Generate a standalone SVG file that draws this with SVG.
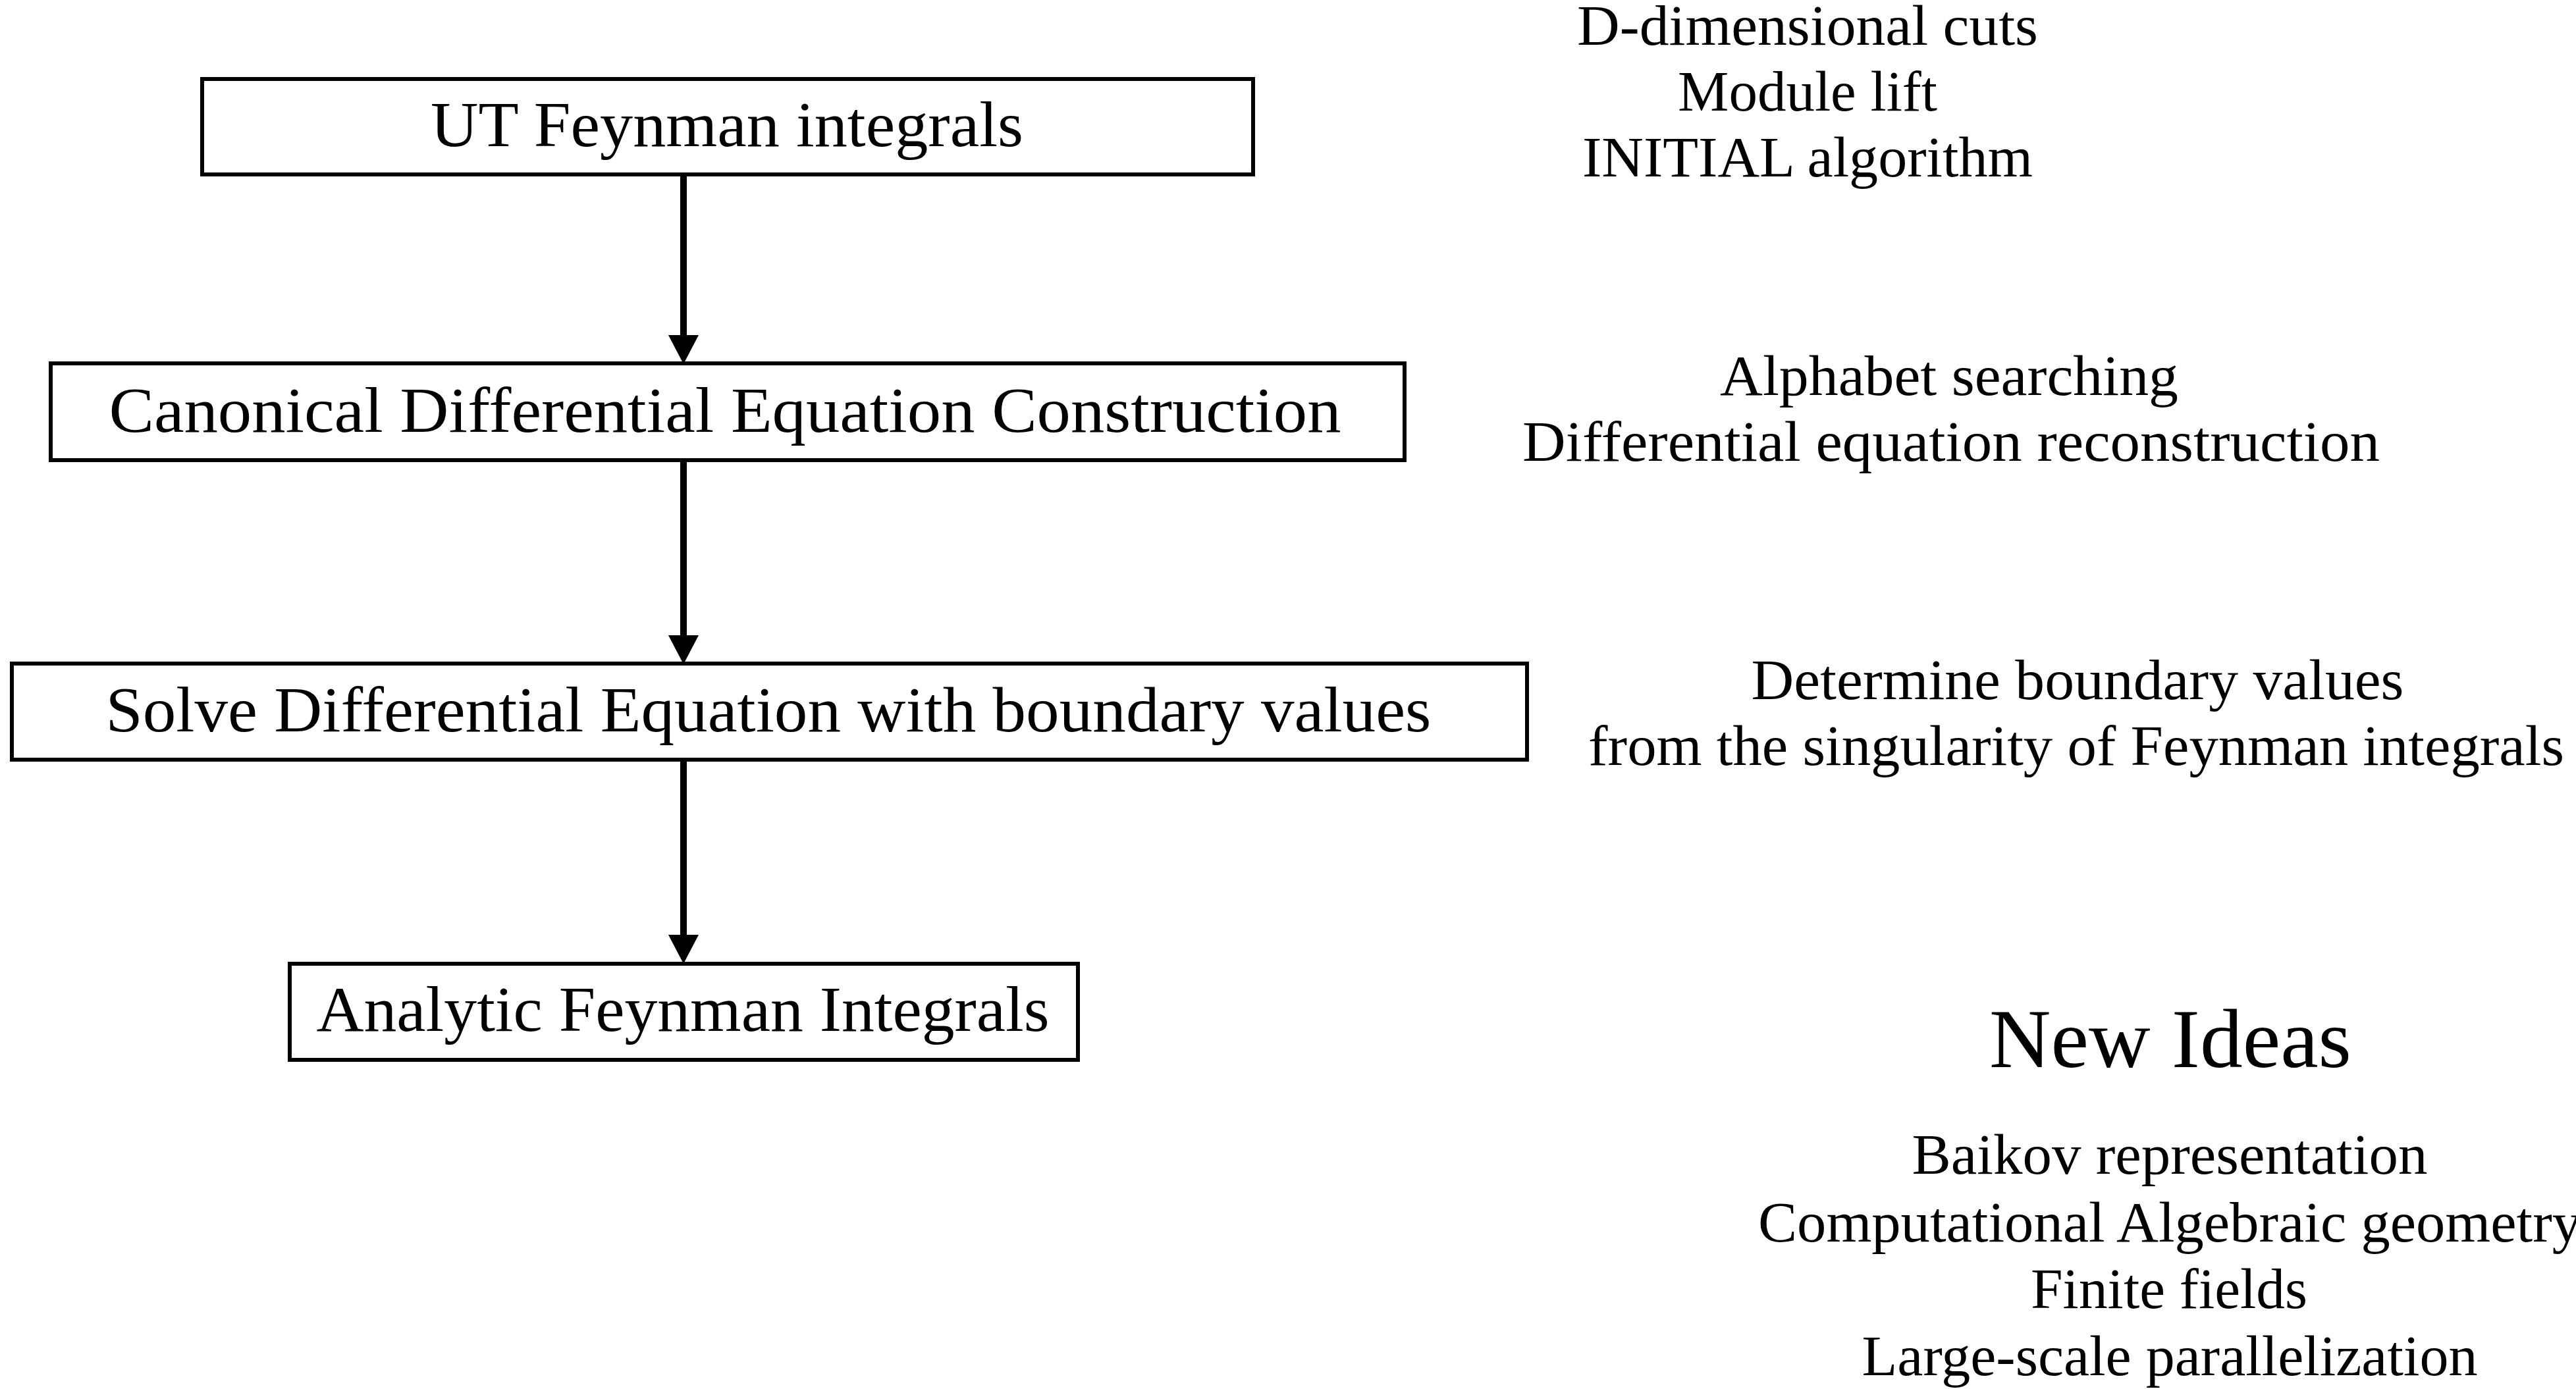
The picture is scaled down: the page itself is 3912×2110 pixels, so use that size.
<svg xmlns="http://www.w3.org/2000/svg" width="3912" height="2110" viewBox="0 0 3912 2110">
  <style>
    .box { fill: #ffffff; stroke: #000000; stroke-width: 6; }
    .t { font-family: "Liberation Serif", "DejaVu Serif", serif; fill: #000000; text-anchor: middle; }
    .node-label { font-size: 98px; }
    .note { font-size: 86px; }
    .heading { font-size: 128px; }
    .link { stroke: #000000; stroke-width: 10; fill: none; marker-end: url(#head); }
  </style>
  <defs>
    <marker id="head" markerUnits="userSpaceOnUse" markerWidth="44" markerHeight="46" viewBox="0 0 44 46" refX="0" refY="23" orient="auto">
      <path d="M0,0 L44,23 L0,46 Z" fill="#000000"/>
    </marker>
  </defs>

  <rect width="3912" height="2110" fill="#ffffff"/>

  <!-- flow boxes -->
  <g id="ut-integrals">
    <rect class="box" x="307" y="120" width="1596" height="145"/>
    <text class="t node-label" x="1104" y="222" textLength="900" lengthAdjust="spacingAndGlyphs">UT Feynman integrals</text>
  </g>
  <g id="canonical-de">
    <rect class="box" x="77" y="552" width="2056" height="147"/>
    <text class="t node-label" x="1101" y="656" textLength="1871" lengthAdjust="spacingAndGlyphs">Canonical Differential Equation Construction</text>
  </g>
  <g id="solve-de">
    <rect class="box" x="18" y="1008" width="2301" height="146"/>
    <text class="t node-label" x="1167" y="1111" textLength="2013" lengthAdjust="spacingAndGlyphs">Solve Differential Equation with boundary values</text>
  </g>
  <g id="analytic-integrals">
    <rect class="box" x="440" y="1464" width="1197" height="146"/>
    <text class="t node-label" x="1037" y="1566" textLength="1113" lengthAdjust="spacingAndGlyphs">Analytic Feynman Integrals</text>
  </g>

  <!-- connectors -->
  <g id="connectors">
    <line class="link" x1="1038" y1="266" x2="1038" y2="509"/>
    <line class="link" x1="1038" y1="700" x2="1038" y2="965"/>
    <line class="link" x1="1038" y1="1155" x2="1038" y2="1420"/>
  </g>

  <!-- side notes -->
  <g id="notes-ut">
    <text class="t note" x="2745" y="68" textLength="700" lengthAdjust="spacingAndGlyphs">D-dimensional cuts</text>
    <text class="t note" x="2745" y="168" textLength="394" lengthAdjust="spacingAndGlyphs">Module lift</text>
    <text class="t note" x="2745" y="268" textLength="684" lengthAdjust="spacingAndGlyphs">INITIAL algorithm</text>
  </g>
  <g id="notes-canonical">
    <text class="t note" x="2960" y="600" textLength="696" lengthAdjust="spacingAndGlyphs">Alphabet searching</text>
    <text class="t note" x="2963" y="700" textLength="1302" lengthAdjust="spacingAndGlyphs">Differential equation reconstruction</text>
  </g>
  <g id="notes-boundary">
    <text class="t note" x="3155" y="1062" textLength="991" lengthAdjust="spacingAndGlyphs">Determine boundary values</text>
    <text class="t note" x="3153" y="1162" textLength="1482" lengthAdjust="spacingAndGlyphs">from the singularity of Feynman integrals</text>
  </g>
  <g id="new-ideas">
    <text class="t heading" x="3296" y="1621" textLength="550" lengthAdjust="spacingAndGlyphs">New Ideas</text>
    <text class="t note" x="3295" y="1783" textLength="783" lengthAdjust="spacingAndGlyphs">Baikov representation</text>
    <text class="t note" x="3295" y="1886" textLength="1250" lengthAdjust="spacingAndGlyphs">Computational Algebraic geometry</text>
    <text class="t note" x="3294" y="1987" textLength="420" lengthAdjust="spacingAndGlyphs">Finite fields</text>
    <text class="t note" x="3295" y="2089" textLength="935" lengthAdjust="spacingAndGlyphs">Large-scale parallelization</text>
  </g>
</svg>
